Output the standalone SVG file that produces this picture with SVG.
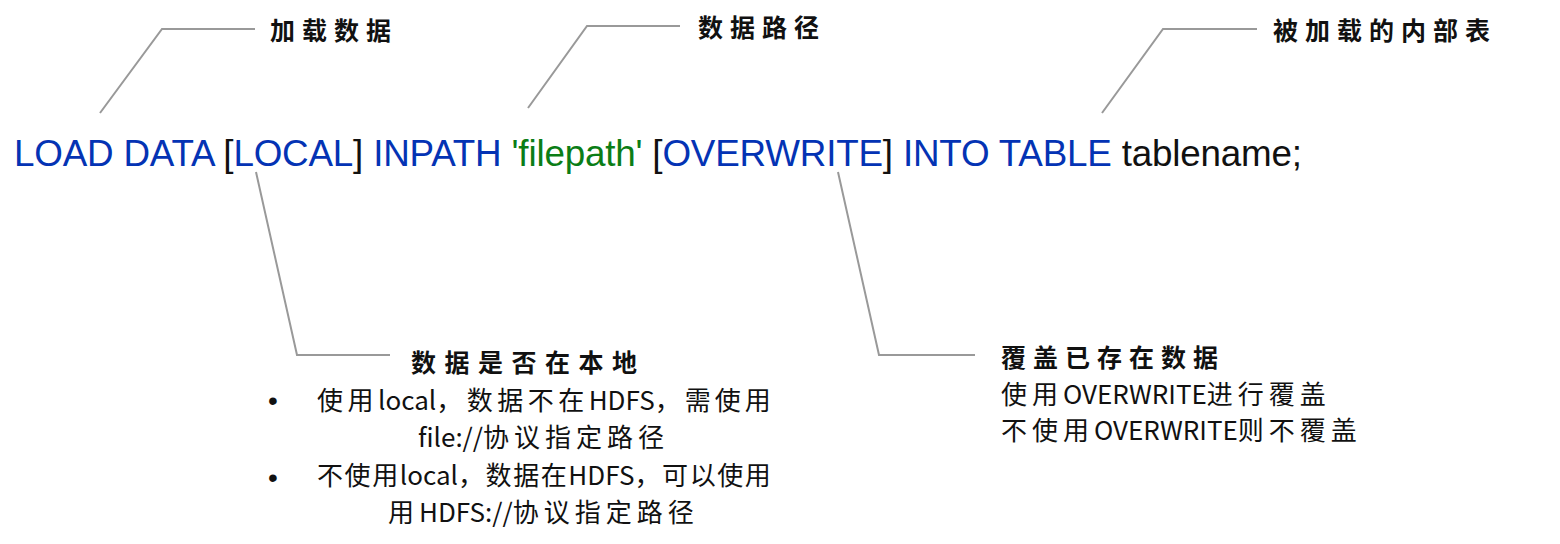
<svg xmlns="http://www.w3.org/2000/svg" width="1560" height="544" viewBox="0 0 1560 544">
  <style>
    .code { font-family: "Liberation Sans", Arial, sans-serif; font-size: 36.8px; }
    .kw { fill: #0433b4; }
    .str { fill: #0b7d16; }
    .plain { fill: #111111; }
    .lbl { font-family: "Noto Sans CJK SC", "Noto Sans", sans-serif; font-size: 25px; font-weight: 700; fill: #111111; }
    .body { font-family: "Noto Sans CJK SC", "Noto Sans", sans-serif; font-size: 26px; font-weight: 400; fill: #111111; }
    .bullet { font-family: "Liberation Sans", Arial, sans-serif; font-size: 28px; fill: #111111; }
    .conn { fill: none; stroke: #999999; stroke-width: 2; stroke-linejoin: miter; }
  </style>

  <g id="connectors">
    <polyline class="conn" points="100,113 162,29 255,29"/>
    <polyline class="conn" points="528,108 587,26 680,26"/>
    <polyline class="conn" points="1102,113 1163,29 1257,29"/>
    <polyline class="conn" points="256,172 297,355 390,355"/>
    <polyline class="conn" points="838,172 879,355 975,355"/>
  </g>

  <g id="statement">
    <text class="code" x="14" y="166" textLength="1288" lengthAdjust="spacing"><tspan class="kw">LOAD DATA </tspan><tspan class="plain">[</tspan><tspan class="kw">LOCAL</tspan><tspan class="plain">]</tspan><tspan class="kw"> INPATH </tspan><tspan class="str">'filepath'</tspan><tspan class="plain"> [</tspan><tspan class="kw">OVERWRITE</tspan><tspan class="plain">]</tspan><tspan class="kw"> INTO TABLE </tspan><tspan class="plain">tablename;</tspan></text>
  </g>

  <g id="label-load-data">
    <text class="lbl" x="270" y="40" letter-spacing="7">加载数据</text>
  </g>

  <g id="label-data-path">
    <text class="lbl" x="698" y="37" letter-spacing="7">数据路径</text>
  </g>

  <g id="label-table">
    <text class="lbl" x="1273" y="40" letter-spacing="7">被加载的内部表</text>
  </g>

  <g id="label-local">
    <text class="lbl" x="411" y="372" letter-spacing="8.5">数据是否在本地</text>
    <text class="bullet" x="268" y="410">•</text>
    <text class="body" x="317" y="410"><tspan letter-spacing="4.5">使用</tspan><tspan>local</tspan><tspan letter-spacing="4.5">，数据不在</tspan><tspan>HDFS</tspan><tspan letter-spacing="4">，需使用</tspan></text>
    <text class="body" x="418" y="447"><tspan>file://</tspan><tspan letter-spacing="5">协议指定路径</tspan></text>
    <text class="bullet" x="268" y="487">•</text>
    <text class="body" x="317" y="485"><tspan letter-spacing="1.6">不使用</tspan><tspan>local</tspan><tspan letter-spacing="1.6">，数据在</tspan><tspan>HDFS</tspan><tspan letter-spacing="1.6">，可以使用</tspan></text>
    <text class="body" x="388" y="522"><tspan letter-spacing="5">用</tspan><tspan>HDFS://</tspan><tspan letter-spacing="5">协议指定路径</tspan></text>
  </g>

  <g id="label-overwrite">
    <text class="lbl" x="1001" y="367" letter-spacing="7">覆盖已存在数据</text>
    <text class="body" x="1001" y="404"><tspan letter-spacing="5">使用</tspan><tspan>OVERWRITE</tspan><tspan letter-spacing="5">进行覆盖</tspan></text>
    <text class="body" x="1001" y="440"><tspan letter-spacing="5">不使用</tspan><tspan>OVERWRITE</tspan><tspan letter-spacing="5">则不覆盖</tspan></text>
  </g>
</svg>
